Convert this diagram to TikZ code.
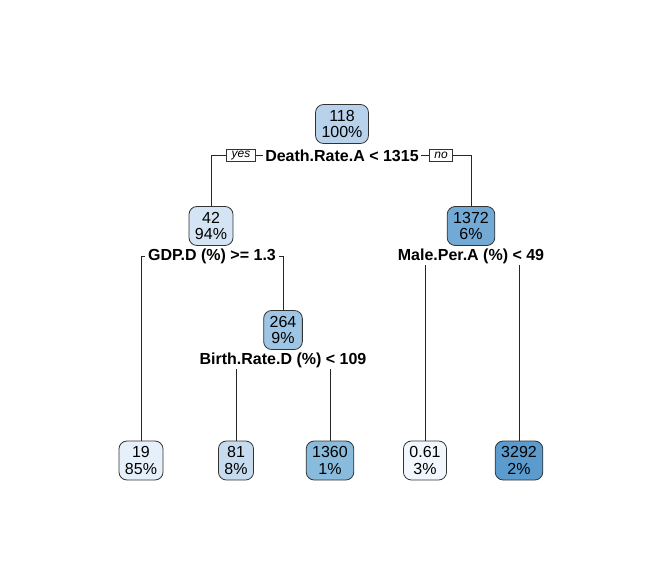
\documentclass[tikz,border=0pt]{standalone}
\usepackage{fontspec}
\setmainfont{Liberation Sans}
\definecolor{cA}{HTML}{B9D2EC}
\definecolor{cB}{HTML}{D5E4F4}
\definecolor{cC}{HTML}{72AAD5}
\definecolor{cD}{HTML}{9EC5E3}
\definecolor{cE}{HTML}{E6F0FA}
\definecolor{cF}{HTML}{C7DBEF}
\definecolor{cG}{HTML}{89BBDD}
\definecolor{cH}{HTML}{F2F7FD}
\definecolor{cI}{HTML}{5B9BCE}
\tikzset{
  treenode/.style={draw=black!80, line width=0.8pt, rounded corners=8pt, align=center,
    font=\fontsize{16}{16.5}\selectfont, inner xsep=6pt, inner ysep=2.5pt, minimum height=39pt},
  splitlabel/.style={font=\fontsize{16}{18}\selectfont\bfseries, inner xsep=2.5pt, inner ysep=1pt},
  yesno/.style={draw=black!80, line width=0.6pt, fill=white, font=\fontsize{12}{12}\selectfont\itshape,
    inner xsep=5pt, inner ysep=0pt, minimum height=12pt},
  edge/.style={draw=black!85, line width=0.7pt}
}
\begin{document}
\begin{tikzpicture}[x=1pt,y=-1pt]
\useasboundingbox (0,0) rectangle (661,588);
% nodes
\node[treenode, fill=cA] (n118) at (342,124) {118\\100\%};
\node[splitlabel] (s1) at (342,155.5) {Death.Rate.A < 1315};
\node[treenode, fill=cB] (n42) at (211,226) {42\\94\%};
\node[splitlabel] (s2) at (212,256.5) {GDP.D (\%) >= 1.3};
\node[treenode, fill=cC] (n1372) at (471,226) {1372\\6\%};
\node[splitlabel] (s3) at (471,256.5) {Male.Per.A (\%) < 49};
\node[treenode, fill=cD] (n264) at (283,330) {264\\9\%};
\node[splitlabel] (s4) at (283,360.5) {Birth.Rate.D (\%) < 109};
\node[treenode, fill=cE] (n19) at (141,460.5) {19\\85\%};
\node[treenode, fill=cF] (n81) at (236,460.5) {81\\8\%};
\node[treenode, fill=cG] (n1360) at (330,460.5) {1360\\1\%};
\node[treenode, fill=cH] (n061) at (425,460.5) {0.61\\3\%};
\node[treenode, fill=cI] (n3292) at (519,460.5) {3292\\2\%};
% connectors
\draw[edge] (n42.north) |- (s1.west);
\draw[edge] (n1372.north) |- (s1.east);
\draw[edge] (n19.north) |- (s2.west);
\draw[edge] (n264.north) |- (s2.east);
\draw[edge] (n061.north) -- (n061.north |- s3.south);
\draw[edge] (n3292.north) -- (n3292.north |- s3.south);
\draw[edge] (n81.north) -- (n81.north |- s4.south);
\draw[edge] (n1360.north) -- (n1360.north |- s4.south);
% yes / no labels
\node[yesno] (yes) at (241,155.5) {yes};
\node[yesno] (no) at (441,155.5) {no};
\end{tikzpicture}
\end{document}
